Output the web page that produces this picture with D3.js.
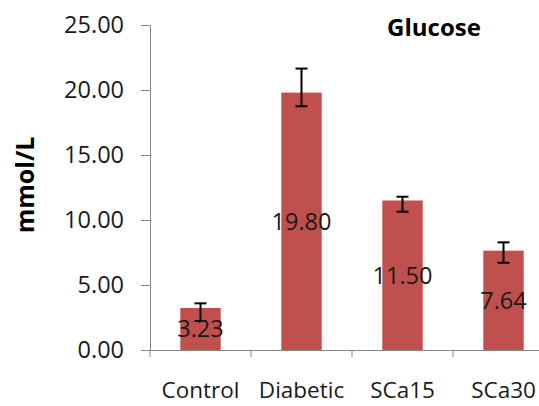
<!DOCTYPE html>
<html lang="en">
<head>
    <meta charset="UTF-8">
    <title>Glucose</title>
    <script src="https://cdnjs.cloudflare.com/ajax/libs/d3/7.8.5/d3.min.js"></script>
    <style>
        body { margin: 0; background: #fff; }
        text { font-family: "Open Sans", sans-serif; }
    </style>
</head>
<body>
    <svg width="539" height="406"></svg>
    <script>
        "use strict";

        const groups = ["Control", "Diabetic", "SCa15", "SCa30"];
        const glucose = [3.23, 19.80, 11.50, 7.64];
        // error bar ends
        const errLow = [2.23, 18.75, 10.64, 6.71];
        const errHigh = [3.59, 21.65, 11.79, 8.28];
        const yTicks = [0, 5, 10, 15, 20, 25];

        const svg = d3.select("svg");
        const plotLeft = 150, plotRight = 554, plotTop = 25, plotBottom = 350;

        const x = d3.scaleBand()
            .domain(groups)
            .range([plotLeft, plotRight])
            .paddingInner(0.6)
            .paddingOuter(0.3);

        const y = d3.scaleLinear()
            .domain([0, 25])
            .range([plotBottom, plotTop]);

        const axisColor = "#868686";

        // y axis
        const yAxis = svg.append("g")
            .attr("transform", `translate(${plotLeft},0)`)
            .call(d3.axisLeft(y).tickValues(yTicks).tickFormat(d3.format(".2f")).tickSize(9).tickPadding(17));
        yAxis.select(".domain").attr("stroke", axisColor);
        yAxis.selectAll(".tick line").attr("stroke", axisColor);
        yAxis.selectAll(".tick text")
            .attr("fill", "#1a1a1a")
            .style("font-size", "23.5px")
            .style("font-family", "'Open Sans', sans-serif");

        // bars
        svg.append("g")
            .selectAll("rect")
            .data(glucose)
            .join("rect")
            .attr("x", (d, i) => x(groups[i]))
            .attr("y", d => y(d))
            .attr("width", x.bandwidth())
            .attr("height", d => y(0) - y(d))
            .attr("fill", "#c0504d");

        // x axis: line, ticks at category boundaries, labels at centres
        const xAxis = svg.append("g")
            .attr("transform", `translate(0,${plotBottom})`)
            .call(d3.axisBottom(x).tickSize(0).tickPadding(32));
        xAxis.select(".domain").attr("stroke", axisColor);
        xAxis.selectAll(".tick text")
            .attr("fill", "#1a1a1a")
            .style("font-size", "22.5px")
            .style("font-family", "'Open Sans', sans-serif");
        xAxis.selectAll(".bound")
            .data(d3.range(groups.length + 1))
            .join("line")
            .attr("class", "bound")
            .attr("x1", i => plotLeft + i * x.step())
            .attr("x2", i => plotLeft + i * x.step())
            .attr("y1", 0)
            .attr("y2", 7)
            .attr("stroke", axisColor);

        // error bars
        const capHalf = 6;
        const err = svg.append("g")
            .attr("stroke", "#000")
            .attr("stroke-width", 2);
        groups.forEach((g, i) => {
            const cx = x(g) + x.bandwidth() / 2;
            err.append("line")
                .attr("x1", cx).attr("x2", cx)
                .attr("y1", y(errLow[i])).attr("y2", y(errHigh[i]));
            err.append("line")
                .attr("x1", cx - capHalf).attr("x2", cx + capHalf)
                .attr("y1", y(errLow[i])).attr("y2", y(errLow[i]));
            err.append("line")
                .attr("x1", cx - capHalf).attr("x2", cx + capHalf)
                .attr("y1", y(errHigh[i])).attr("y2", y(errHigh[i]));
        });

        // value labels in the middle of each bar
        svg.append("g")
            .selectAll("text")
            .data(glucose)
            .join("text")
            .attr("x", (d, i) => x(groups[i]) + x.bandwidth() / 2)
            .attr("y", d => y(d / 2))
            .attr("dy", "0.36em")
            .attr("text-anchor", "middle")
            .attr("fill", "#1a1a1a")
            .style("font-size", "23.5px")
            .text(d => d.toFixed(2));

        // titles
        svg.append("text")
            .attr("x", 434)
            .attr("y", 36)
            .attr("text-anchor", "middle")
            .style("font-size", "24px")
            .style("font-weight", "bold")
            .text("Glucose");

        svg.append("text")
            .attr("transform", "translate(34,185) rotate(-90)")
            .attr("text-anchor", "middle")
            .style("font-size", "25px")
            .style("font-weight", "bold")
            .text("mmol/L");
    </script>
</body>
</html>
